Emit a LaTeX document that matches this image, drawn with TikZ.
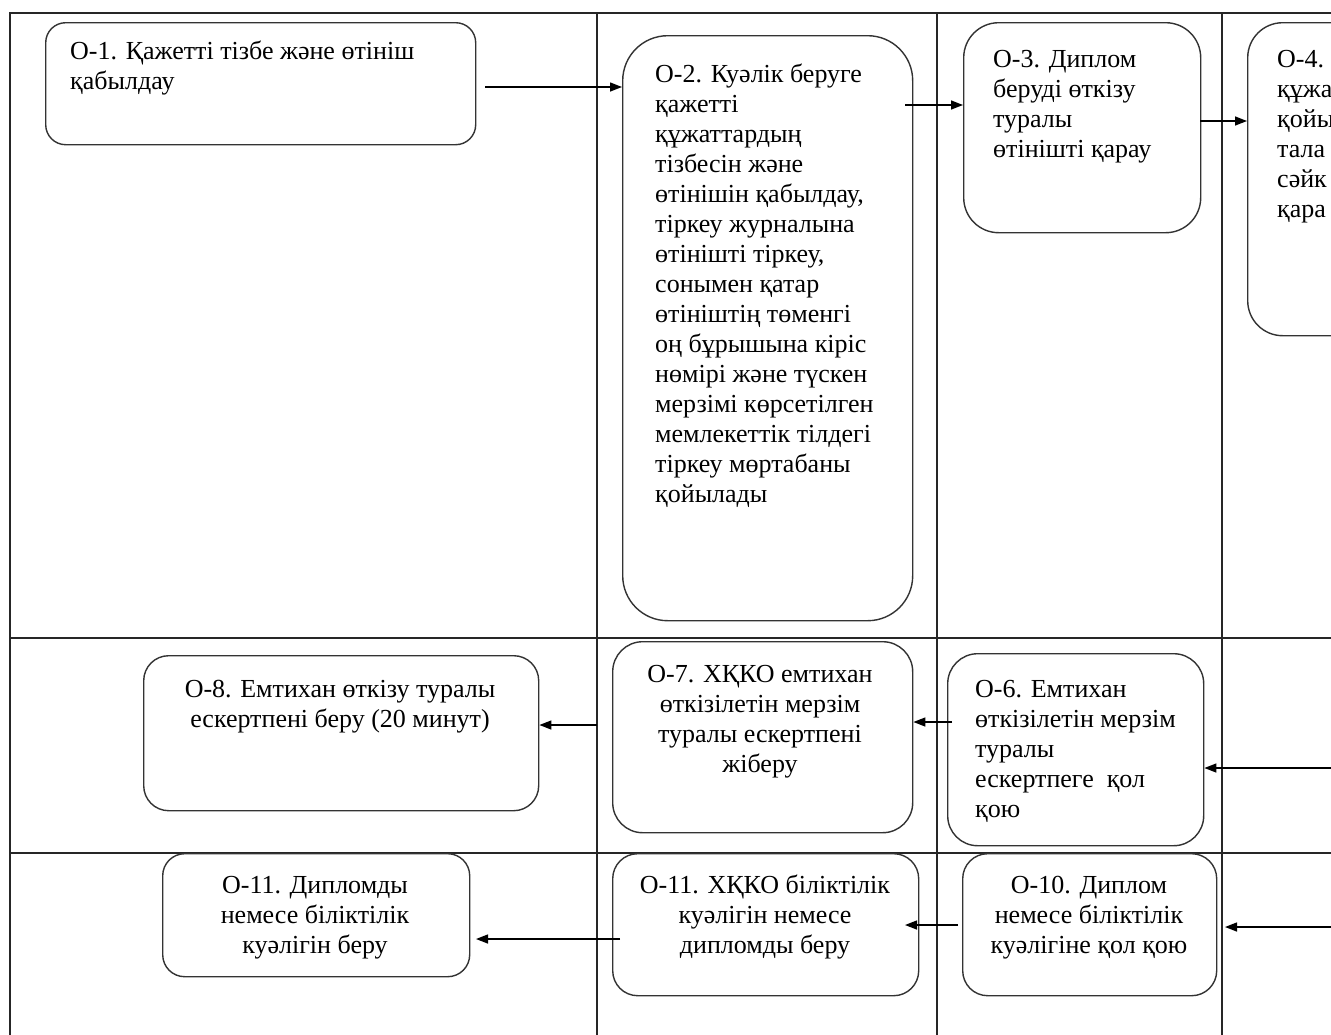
\documentclass[tikz,border=0pt]{standalone}
\usepackage{fontspec}
\setmainfont{Liberation Serif}
\usetikzlibrary{arrows.meta}
\newcommand{\txtL}[1]{\begin{tabular}[t]{@{}l@{}}#1\end{tabular}}
\newcommand{\txtC}[1]{\begin{tabular}[t]{@{}c@{}}#1\end{tabular}}
\begin{document}
\begin{tikzpicture}[x=1pt,y=-1pt,
  box/.style={draw=black!80, line width=1.4pt, anchor=north west, inner sep=0pt},
  frame/.style={line width=1.8pt, draw=black!85},
  txt/.style={inner sep=0pt, font=\fontsize{26}{30}\selectfont, text=black},
  txtl/.style={txt, anchor=base west},
  txtc/.style={txt, anchor=base},
  arr/.style={line width=1.4pt, draw=black, -{Triangle[length=12pt,width=9pt]}}]
\useasboundingbox (0,0) rectangle (1331,1034);
\clip (0,0) rectangle (1331,1034);
\fill[white] (0,0) rectangle (1331,1034);
% frame
\draw[frame] (10,1040) -- (10,13) -- (1340,13);
\draw[frame] (597,13) -- (597,1040);
\draw[frame] (937,13) -- (937,1040);
\draw[frame] (1222,13) -- (1222,1040);
\draw[frame] (10,638) -- (1340,638);
\draw[frame] (10,853) -- (1340,853);
% row 1
\node[box, minimum width=430pt, minimum height=122pt, rounded corners=20pt] (o1) at (45,22) {};
\node[txtl] (t1) at (70,59) {\txtL{О-1. Қажетті тізбе және өтініш\\қабылдау}};
\node[box, minimum width=290pt, minimum height=585pt, rounded corners=45pt] (o2) at (622,35) {};
\node[txtl] (t2) at (655,82) {\txtL{О-2. Куәлік беруге\\қажетті\\құжаттардың\\тізбесін және\\өтінішін қабылдау,\\тіркеу журналына\\өтінішті тіркеу,\\сонымен қатар\\өтініштің төменгі\\оң бұрышына кіріс\\нөмірі және түскен\\мерзімі көрсетілген\\мемлекеттік тілдегі\\тіркеу мөртабаны\\қойылады}};
\node[box, minimum width=237pt, minimum height=210pt, rounded corners=35pt] (o3) at (963,22) {};
\node[txtl] (t3) at (993,67) {\txtL{О-3. Диплом\\беруді өткізу\\туралы\\өтінішті қарау}};
\node[box, minimum width=200pt, minimum height=313pt, rounded corners=35pt] (o4) at (1247,22) {};
\node[txtl] (t4) at (1277,67) {\txtL{О-4.\\құжа\\қойы\\тала\\сәйк\\қара}};
% row 2
\node[box, minimum width=395pt, minimum height=155pt, rounded corners=25pt] (o8) at (143,655) {};
\node[txtc] (t8) at (340,697) {\txtC{О-8. Емтихан өткізу туралы\\ескертпені беру (20 минут)}};
\node[box, minimum width=300pt, minimum height=191pt, rounded corners=30pt] (o7) at (612,641) {};
\node[txtc] (t7) at (760,682) {\txtC{О-7. ХҚКО емтихан\\өткізілетін мерзім\\туралы ескертпені\\жіберу}};
\node[box, minimum width=256pt, minimum height=192pt, rounded corners=30pt] (o6) at (947,653) {};
\node[txtl] (t6) at (975,697) {\txtL{О-6. Емтихан\\өткізілетін мерзім\\туралы\\ескертпеге\ \ қол\\қою}};
% row 3
\node[box, minimum width=307pt, minimum height=123pt, rounded corners=22pt] (o11a) at (162,853) {};
\node[txtc] (t11a) at (315,893) {\txtC{О-11. Дипломды\\немесе біліктілік\\куәлігін беру}};
\node[box, minimum width=306pt, minimum height=142pt, rounded corners=25pt] (o11b) at (612,853) {};
\node[txtc] (t11b) at (765,893) {\txtC{О-11. ХҚКО біліктілік\\куәлігін немесе\\дипломды беру}};
\node[box, minimum width=254pt, minimum height=142pt, rounded corners=25pt] (o10) at (962,853) {};
\node[txtc] (t10) at (1089,893) {\txtC{О-10. Диплом\\немесе біліктілік\\куәлігіне қол қою}};
% arrows
\coordinate (a1) at (485,87);
\draw[arr] (a1) -- (o2.west |- a1);
\coordinate (a2) at (905,105);
\draw[arr] (a2) -- (o3.west |- a2);
\coordinate (a3) at (1200,121);
\draw[arr] (a3) -- (o4.west |- a3);
\coordinate (a4) at (952,722);
\draw[arr] (a4) -- (o7.east |- a4);
\coordinate (a5) at (597,725);
\draw[arr] (a5) -- (o8.east |- a5);
\coordinate (a6) at (1335,768);
\draw[arr] (a6) -- (o6.east |- a6);
\coordinate (a7) at (958,925);
\coordinate (b7) at (905,925);
\draw[arr] (a7) -- (b7);
\coordinate (a8) at (620,939);
\coordinate (b8) at (476,939);
\draw[arr] (a8) -- (b8);
\coordinate (a9) at (1335,927);
\coordinate (b9) at (1225,927);
\draw[arr] (a9) -- (b9);
\end{tikzpicture}
\end{document}
